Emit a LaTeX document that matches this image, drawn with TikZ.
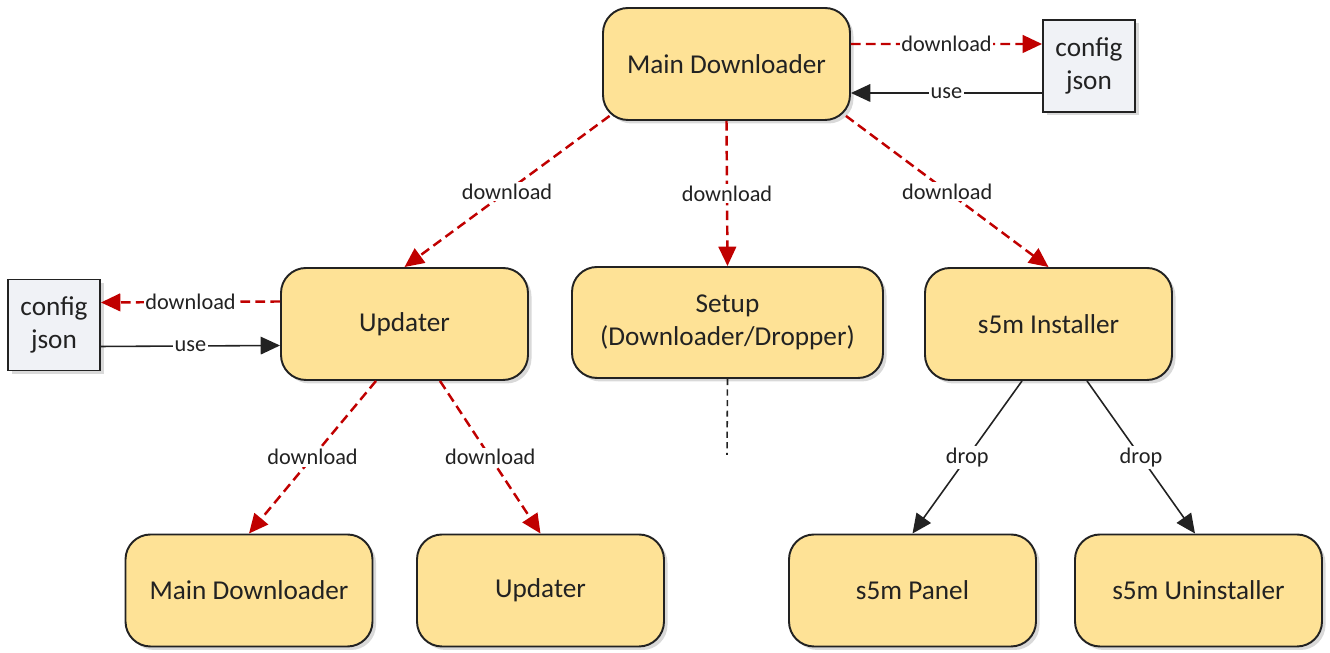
\documentclass[tikz,border=0pt]{standalone}
\usepackage{fontspec}
\setmainfont{Carlito}
\usepackage{tikz}
\usetikzlibrary{arrows.meta,shadows,positioning}
\definecolor{boxgelb}{RGB}{254,226,150}
\definecolor{boxgrau}{RGB}{240,242,246}
\definecolor{pfeilrot}{RGB}{192,0,0}
\definecolor{rand}{RGB}{34,34,34}

\begin{document}
\begin{tikzpicture}[
  modul/.style={draw=rand,line width=1.1pt,fill=boxgelb,rounded corners=0.5cm,
    minimum width=4.94cm,minimum height=2.24cm,align=center,text=rand,
    font=\fontsize{15.5}{19}\selectfont,
    drop shadow={opacity=0.3,shadow xshift=0.07cm,shadow yshift=-0.07cm}},
  datei/.style={draw=rand,line width=1.1pt,fill=boxgrau,minimum width=1.84cm,
    minimum height=1.84cm,align=center,text=rand,inner sep=1pt,
    font=\fontsize{15.5}{19}\selectfont,
    drop shadow={opacity=0.3,shadow xshift=0.07cm,shadow yshift=-0.07cm}},
  lade/.style={draw=pfeilrot,line width=1.4pt,dash pattern=on 5.5pt off 3pt,
    -{Triangle[length=11pt,width=10pt]}},
  nutzt/.style={draw=rand,line width=0.9pt,-{Triangle[length=11pt,width=10pt]}},
  lbl/.style={fill=white,inner sep=1pt,text=rand,font=\fontsize{12.7}{14}\selectfont}
]
%Rahmen: 1330x653 Pixel, 1 Pixel = 0.02 cm
\useasboundingbox (0,0) rectangle (26.6,13.06);
%obere Reihe
\node[modul] (hauptLader) at (14.53,11.78) {Main Downloader};
\node[datei] (configOben) at (21.78,11.74) {config\\json};
%mittlere Reihe
\node[datei,minimum height=1.82cm] (configLinks) at (1.08,6.56) {config\\json};
\node[modul] (updater) at (8.09,6.58) {Updater};
\node[modul,minimum width=6.22cm,minimum height=2.22cm] (setup) at (14.55,6.61) {Setup\\(Downloader/Dropper)};
\node[modul] (installer) at (20.97,6.58) {s5m Installer};
%untere Reihe
\node[modul] (hauptLader2) at (4.98,1.25) {Main Downloader};
\node[modul] (updater2) at (10.81,1.25) {Updater};
\node[modul] (panel) at (18.25,1.25) {s5m Panel};
\node[modul] (deinst) at (23.97,1.25) {s5m Uninstaller};
\coordinate (setupEnde) at (14.54,3.96);

\draw[lade] ([yshift=0.4cm]hauptLader.east) --node[lbl] {download} ([yshift=0.44cm]configOben.west);
\draw[nutzt] ([yshift=-0.54cm]configOben.west) --node[lbl] {use} ([yshift=-0.58cm]hauptLader.east);
\draw[lade] ([xshift=0.15cm,yshift=0.1cm]hauptLader.south west) --node[lbl] {download} (updater.north);
\draw[lade] (hauptLader.south) --node[lbl] {download} (setup.north);
\draw[lade] ([xshift=-0.1cm,yshift=0.1cm]hauptLader.south east) --node[lbl] {download} (installer.north);
\draw[lade] ([yshift=0.45cm]updater.west) --node[lbl] {download} ([yshift=0.45cm]configLinks.east);
\draw[nutzt] ([yshift=-0.43cm]configLinks.east) --node[lbl] {use} ([yshift=-0.43cm]updater.west);
\draw[lade] ([xshift=-0.57cm]updater.south) --node[lbl] {download} (hauptLader2.north);
\draw[lade] ([xshift=0.71cm]updater.south) --node[lbl] {download} (updater2.north);
\draw[draw=rand,line width=0.9pt,dash pattern=on 3.5pt off 2.5pt] (setup.south) -- (setupEnde);
\draw[nutzt] ([xshift=-0.53cm]installer.south) --node[lbl] {drop} (panel.north);
\draw[nutzt] ([xshift=0.77cm]installer.south) --node[lbl] {drop} ([xshift=-0.07cm]deinst.north);
\end{tikzpicture}
\end{document}
